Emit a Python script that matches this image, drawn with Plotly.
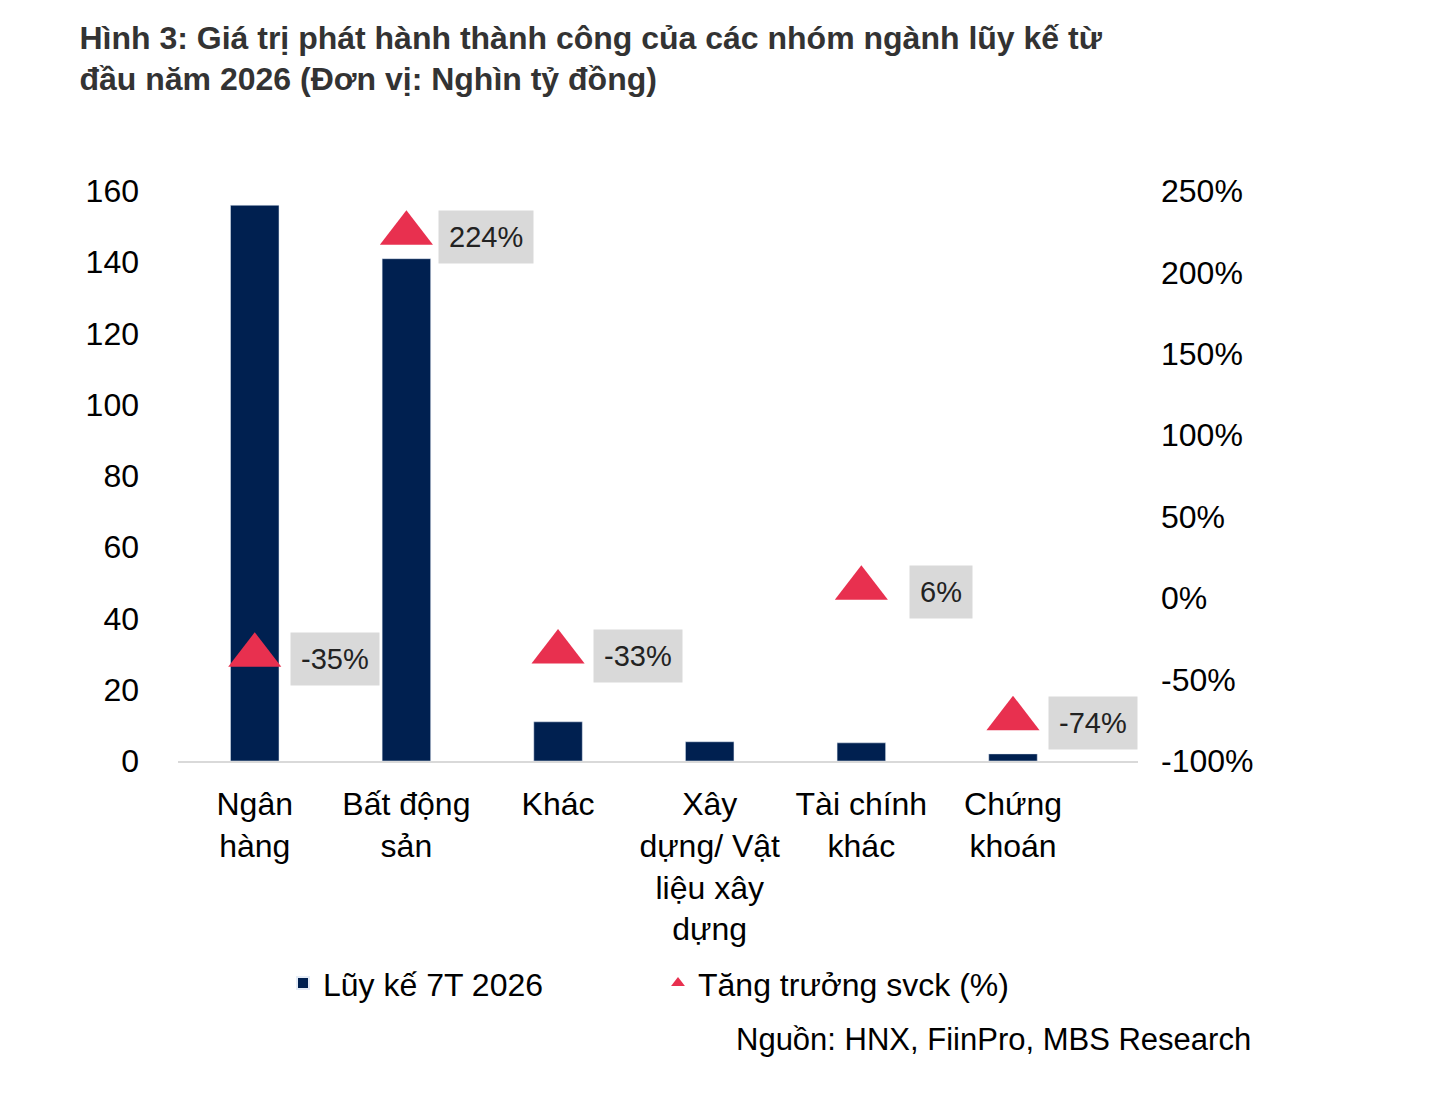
import plotly.graph_objects as go

categories = ["Ngân<br>hàng", "Bất động<br>sản", "Khác", "Xây<br>dựng/ Vật<br>liệu xây<br>dựng", "Tài chính<br>khác", "Chứng<br>khoán"]
luy_ke = [156, 141, 11, 5.4, 5.1, 2]
cat_tri = ["Ngân<br>hàng", "Bất động<br>sản", "Khác", "Tài chính<br>khác", "Chứng<br>khoán"]
tang_truong = [-35, 224, -33, 6, -74]
labels = ["-35%", "224%", "-33%", "6%", "-74%"]
right_ticks = [-100, -50, 0, 50, 100, 150, 200, 250]
right_tick_text = ["-100%", "-50%", "0%", "50%", "100%", "150%", "200%", "250%"]

F = "Liberation Sans, Arial, sans-serif"
fig = go.Figure()
fig.add_bar(x=categories, y=luy_ke, name="Lũy kế 7T 2026", marker_color="#002050", width=0.32)
fig.add_scatter(x=cat_tri, y=tang_truong, yaxis="y2", mode="markers", name="Tăng trưởng svck (%)",
                marker=dict(symbol="triangle-up", size=46, color="#E8304F"))
for c, v, t in zip(cat_tri, tang_truong, labels):
    fig.add_annotation(x=c, y=v, yref="y2", text=t, showarrow=False, xshift=80, yshift=-4,
                       bgcolor="#D9D9D9", font=dict(size=29, color="#222"), borderpad=10)
fig.add_annotation(xref="paper", yref="paper", x=1.12, y=-0.488, xanchor="right", yanchor="middle",
                   text="Nguồn: HNX, FiinPro, MBS Research", showarrow=False, font=dict(size=31, color="#000"))
fig.update_layout(
    width=1429, height=1099, plot_bgcolor="white", paper_bgcolor="white",
    margin=dict(l=170, r=299, t=183, b=346),
    font=dict(family=F, size=32, color="#000"),
    title=dict(text="<b>Hình 3: Giá trị phát hành thành công của các nhóm ngành lũy kế từ<br>đầu năm 2026 (Đơn vị: Nghìn tỷ đồng)</b>",
               x=0.05, xanchor="left", y=0.963, yanchor="top", font=dict(size=32, color="#333")),
    xaxis=dict(showline=True, linecolor="#D9D9D9", linewidth=2, ticks="", tickfont=dict(size=32),
               ticklabelstandoff=14),
    yaxis=dict(range=[0, 160], dtick=20, showgrid=False, zeroline=False, ticks="", ticklabelstandoff=38),
    yaxis2=dict(range=[-100, 250], tickvals=right_ticks, ticktext=right_tick_text, overlaying="y", side="right",
                showgrid=False, zeroline=False, ticks="", ticklabelstandoff=22),
    legend=dict(orientation="h", x=0.5, xanchor="center", y=-0.39, yanchor="middle", font=dict(size=32),
                entrywidth=330, itemsizing="constant"),
    bargap=0.6,
)
fig.write_html("out.html")
